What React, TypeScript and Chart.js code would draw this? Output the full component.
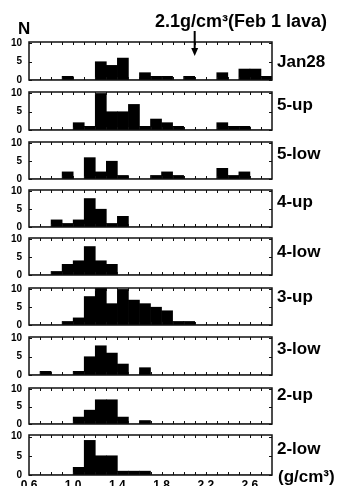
import React, { useEffect, useRef } from 'react';
import { Chart, registerables } from 'chart.js';

Chart.register(...registerables);

// ---- data ----
const binStarts = [0.6, 0.7, 0.8, 0.9, 1.0, 1.1, 1.2, 1.3, 1.4, 1.5, 1.6, 1.7, 1.8, 1.9, 2.0, 2.1, 2.2, 2.3, 2.4, 2.5, 2.6, 2.7];
const binWidth = 0.1;
const panelNames = ['Jan28', '5-up', '5-low', '4-up', '4-low', '3-up', '3-low', '2-up', '2-low'];
const jan28 = [0, 0, 0, 1, 0, 0, 5, 4, 6, 0, 2, 1, 1, 0, 1, 0, 0, 2, 0, 3, 3, 1];
const up5 = [0, 0, 0, 0, 2, 1, 10, 5, 5, 7, 1, 3, 2, 1, 0, 0, 0, 2, 1, 1, 0, 0];
const low5 = [0, 0, 0, 2, 0, 6, 2, 5, 1, 0, 0, 1, 2, 1, 0, 0, 0, 3, 1, 2, 0, 0];
const up4 = [0, 0, 2, 1, 2, 8, 5, 1, 3, 0, 0, 0, 0, 0, 0, 0, 0, 0, 0, 0, 0, 0];
const low4 = [0, 0, 1, 3, 4, 8, 4, 3, 0, 0, 0, 0, 0, 0, 0, 0, 0, 0, 0, 0, 0, 0];
const up3 = [0, 0, 0, 1, 2, 8, 11, 6, 10, 7, 6, 5, 4, 1, 1, 0, 0, 0, 0, 0, 0, 0];
const low3 = [0, 1, 0, 0, 1, 5, 8, 6, 3, 0, 2, 0, 0, 0, 0, 0, 0, 0, 0, 0, 0, 0];
const up2 = [0, 0, 0, 0, 2, 4, 7, 7, 2, 0, 1, 0, 0, 0, 0, 0, 0, 0, 0, 0, 0, 0];
const low2 = [0, 0, 0, 0, 2, 9, 5, 5, 1, 1, 1, 0, 0, 0, 0, 0, 0, 0, 0, 0, 0, 0];
const panelSeries = [jan28, up5, low5, up4, low4, up3, low3, up2, low2];
const xTickLabels = [0.6, 1.0, 1.4, 1.8, 2.2, 2.6];
const minorTicks = [0.7, 0.8, 0.9, 1.0, 1.1, 1.2, 1.3, 1.4, 1.5, 1.6, 1.7, 1.8, 1.9, 2.0, 2.1, 2.2, 2.3, 2.4, 2.5, 2.6, 2.7];
const yTicks = [0, 5, 10];
const xMin = 0.6;
const xMax = 2.8;
const yMax = 10.4;
const arrowValue = 2.1;
const arrowText = '2.1g/cm³(Feb 1 lava)';
const yTitle = 'N';
const xUnit = '(g/cm³)';

// ---- layout ----
const W = 340;
const H = 488;
const plotLeft = 29;
const plotRight = 272;
const panelTops = [42, 89, 139, 187, 235, 285, 334, 385, 432];
const panelBottoms = [83, 133, 182, 230, 278, 328, 378, 427, 477];
const labelTops = [53, 96, 145, 193, 243, 288, 340, 386, 440];
const FONT = '"Liberation Sans", Arial, Helvetica, sans-serif';

const framePlugin = {
  id: 'frame',
  afterDatasetsDraw(chart: any) {
    const { ctx, chartArea: a, scales } = chart;
    const x = scales.x;
    const y = scales.y;
    ctx.save();
    ctx.strokeStyle = '#111';
    ctx.lineWidth = 1.5;
    ctx.strokeRect(a.left, a.top, a.right - a.left, a.bottom - a.top);
    ctx.lineWidth = 1;
    ctx.beginPath();
    for (const v of minorTicks) {
      const px = Math.round(x.getPixelForValue(v)) + 0.5;
      ctx.moveTo(px, a.top);
      ctx.lineTo(px, a.top + 3);
      ctx.moveTo(px, a.bottom);
      ctx.lineTo(px, a.bottom - 3);
    }
    for (const v of yTicks) {
      const py = Math.round(y.getPixelForValue(v)) + 0.5;
      ctx.moveTo(a.left, py);
      ctx.lineTo(a.left + 3, py);
      ctx.moveTo(a.right, py);
      ctx.lineTo(a.right - 3, py);
    }
    ctx.stroke();
    ctx.restore();
  },
};

const arrowPlugin = {
  id: 'arrow',
  afterDraw(chart: any) {
    const { ctx, chartArea: a, scales } = chart;
    const px = scales.x.getPixelForValue(arrowValue);
    ctx.save();
    ctx.strokeStyle = '#000';
    ctx.fillStyle = '#000';
    ctx.lineWidth = 2;
    ctx.beginPath();
    ctx.moveTo(px, a.top - 11);
    ctx.lineTo(px, a.top + 7);
    ctx.stroke();
    ctx.beginPath();
    ctx.moveTo(px - 3.5, a.top + 6);
    ctx.lineTo(px + 3.5, a.top + 6);
    ctx.lineTo(px, a.top + 14);
    ctx.closePath();
    ctx.fill();
    ctx.restore();
  },
};

function canvasBox(k: number) {
  const last = k === panelTops.length - 1;
  const top = k === 0 ? 0 : panelTops[k] - 10;
  const bottom = last ? H : panelBottoms[k] + 10;
  return { top, height: bottom - top, padTop: panelTops[k] - top, padBottom: last ? 0 : bottom - panelBottoms[k], last };
}

export default function App() {
  const refs = useRef<(HTMLCanvasElement | null)[]>([]);

  useEffect(() => {
    const charts: Chart[] = [];
    panelSeries.forEach((series, k) => {
      const cv = refs.current[k];
      if (!cv) return;
      const box = canvasBox(k);
      const chart = new Chart(cv, {
        type: 'bar',
        data: {
          datasets: [
            {
              data: binStarts.map((b, i) => ({ x: b + binWidth / 2, y: series[i] })),
              backgroundColor: '#000',
              borderWidth: 0,
              barPercentage: 1,
              categoryPercentage: 1,
              clip: 0,
            } as any,
          ],
        },
        options: {
          animation: false,
          responsive: false,
          devicePixelRatio: 1,
          layout: { padding: { top: box.padTop, bottom: box.padBottom, left: 0, right: W - plotRight } },
          plugins: { legend: { display: false }, tooltip: { enabled: false } },
          scales: {
            x: {
              type: 'linear',
              min: xMin,
              max: xMax,
              offset: false,
              display: box.last,
              grid: { display: false, drawTicks: false },
              border: { display: false },
              afterBuildTicks: (s: any) => {
                s.ticks = xTickLabels.map((v) => ({ value: v }));
              },
              afterFit: (s: any) => {
                s.height = box.last ? H - panelBottoms[k] : 0;
              },
              ticks: {
                autoSkip: false,
                maxRotation: 0,
                padding: 3,
                color: '#000',
                font: { family: FONT, size: 12, weight: 'bold' },
                callback: (v: any) => Number(v).toFixed(1),
              },
            },
            y: {
              min: 0,
              max: yMax,
              grid: { display: false, drawTicks: false },
              border: { display: false },
              afterBuildTicks: (s: any) => {
                s.ticks = yTicks.map((v) => ({ value: v }));
              },
              afterFit: (s: any) => {
                s.width = plotLeft;
              },
              ticks: {
                padding: 7,
                color: '#000',
                font: { family: FONT, size: 10, weight: 'bold' },
              },
            },
          },
        } as any,
        plugins: k === 0 ? [framePlugin, arrowPlugin] : [framePlugin],
      });
      charts.push(chart);
    });
    return () => charts.forEach((c) => c.destroy());
  }, []);

  const textBase: React.CSSProperties = {
    position: 'absolute',
    fontFamily: FONT,
    fontWeight: 'bold',
    color: '#000',
    lineHeight: 1,
    whiteSpace: 'nowrap',
  };

  return (
    <div style={{ position: 'absolute', left: 0, top: 0, width: W, height: H, background: '#fff', overflow: 'hidden' }}>
      {panelSeries.map((_, k) => {
        const box = canvasBox(k);
        return (
          <canvas
            key={k}
            ref={(el) => {
              refs.current[k] = el;
            }}
            width={W}
            height={box.height}
            style={{ position: 'absolute', left: 0, top: box.top, width: W, height: box.height }}
          />
        );
      })}
      <div style={{ ...textBase, left: 18, top: 20, fontSize: 17 }}>{yTitle}</div>
      <div style={{ ...textBase, left: 155, top: 12, fontSize: 18 }}>{arrowText}</div>
      {panelNames.map((name, k) => (
        <div key={name} style={{ ...textBase, left: 277, top: labelTops[k], fontSize: 17 }}>
          {name}
        </div>
      ))}
      <div style={{ ...textBase, left: 278, top: 468, fontSize: 17 }}>{xUnit}</div>
    </div>
  );
}
